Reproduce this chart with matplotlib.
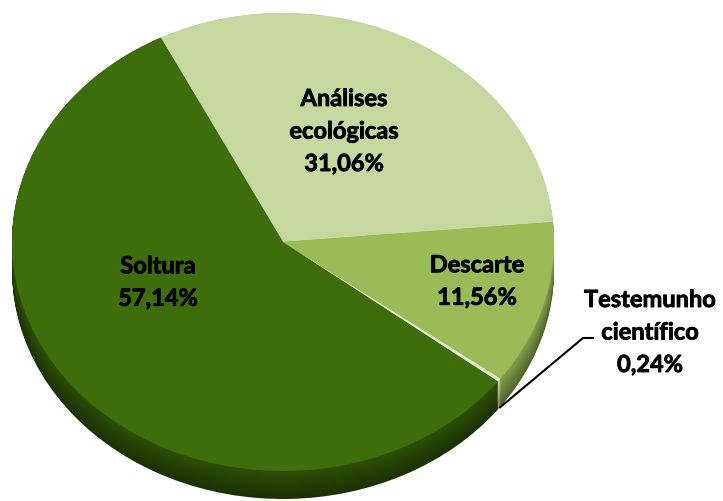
import matplotlib.pyplot as plt
import matplotlib.patheffects as pe
import numpy as np
from matplotlib.colors import to_rgb

# data (order = counter-clockwise from the right)
categories = ['Análises\necológicas', 'Soltura', 'Testemunho\ncientífico', 'Descarte']
values = [31.06, 57.14, 0.24, 11.56]
pct_labels = ['31,06%', '57,14%', '0,24%', '11,56%']

top_colors = ['#c6d7a0', '#3d6e0b', '#e2ebcc', '#9bbb59']
side_colors = ['#a9bb82', '#2c4f07', '#c4d2a4', '#84a04a']

W, H = 723, 501
cx, cy = 283, 242      # pixel centre of the top face
rx, ry = 271, 229      # pixel radii of the top face (tilted pie)
depth = 28             # thickness of the 3d side, px

# label centres in pixels
label_pos = [(344, 131), (158, 282), (650, 332), (477, 281)]


def px(x, y):
    return (x - cx) / rx, (cy - y) / ry


fig = plt.figure(figsize=(W / 100, H / 100), dpi=100)
ax = fig.add_axes([0, 0, 1, 1])

# extrude the side: stack of darker pies shifted down
d = depth / ry
n = 30
for i in range(n):
    off = d * (1 - i / (n - 1))
    shade = 0.62 + 0.38 * i / (n - 1)
    cols = [tuple(c * shade for c in to_rgb(s)) for s in side_colors]
    ax.pie(values, colors=cols, startangle=5, center=(0, -off),
           wedgeprops=dict(linewidth=0.6, edgecolor=None))

wedges, _ = ax.pie(values, colors=top_colors, startangle=5,
                   wedgeprops=dict(linewidth=0))

ax.set_aspect('auto')
ax.set_xlim(-cx / rx, (W - cx) / rx)
ax.set_ylim((cy - H) / ry, cy / ry)
ax.axis('off')

font = dict(family=['Lato', 'DejaVu Sans'], fontweight='bold', fontsize=17,
            color='black', ha='center', va='center', linespacing=1.5,
            path_effects=[pe.withStroke(linewidth=0.6, foreground='black')])
for cat, pct, pos in zip(categories, pct_labels, label_pos):
    ax.text(*px(*pos), cat + '\n' + pct, **font)

# leader line for the tiny slice
w = wedges[2]
th = np.deg2rad((w.theta1 + w.theta2) / 2)
start = (np.cos(th), np.sin(th) - d)
elbow = px(583, 338)
end = px(594, 338)
ax.plot([start[0], elbow[0], end[0]], [start[1], elbow[1], end[1]],
        color='black', lw=1.5, solid_capstyle='butt')

fig.savefig('out.png', dpi=100)
